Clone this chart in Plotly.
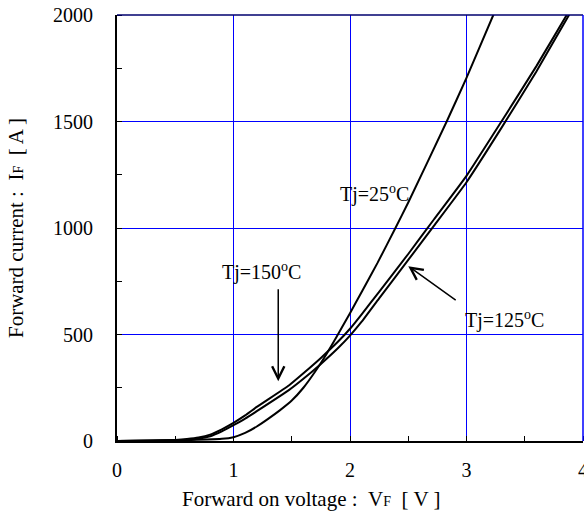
import plotly.graph_objects as go

# Forward characteristics
v_25 = [0.0, 0.5, 0.9, 1.0, 1.1, 1.2, 1.3, 1.4, 1.5, 1.6, 1.7, 1.8, 1.884, 2.0, 2.1, 2.235, 2.39, 2.5, 2.83, 3.0, 3.23, 3.3]
i_25 = [0, 3, 10, 18, 38, 68, 105, 145, 190, 250, 325, 410, 488, 600, 700, 835, 1000, 1120, 1500, 1705, 2000, 2090]

v_125 = [0.0, 0.3, 0.5, 0.6, 0.7, 0.8, 0.9, 1.0, 1.1, 1.2, 1.478, 1.6, 1.75, 1.9, 2.0, 2.1, 2.25, 2.5, 2.72, 3.0, 3.3, 3.6, 3.88, 3.95]
i_125 = [0, 1, 4, 6, 11, 22, 45, 74, 105, 140, 240, 292, 362, 438, 495, 560, 670, 850, 1010, 1215, 1470, 1735, 2000, 2060]

v_150 = [0.0, 0.3, 0.5, 0.6, 0.7, 0.8, 0.9, 1.0, 1.1, 1.2, 1.478, 1.6, 1.75, 1.9, 2.0, 2.1, 2.25, 2.5, 2.72, 3.0, 3.3, 3.6, 3.86, 3.93]
i_150 = [0, 2, 5, 9, 16, 30, 55, 85, 120, 160, 262, 318, 390, 468, 527, 595, 700, 878, 1040, 1245, 1500, 1760, 2000, 2065]

x_ticks = [0, 1, 2, 3, 4]
y_ticks = [0, 500, 1000, 1500, 2000]

FONT = "Liberation Serif"
fig = go.Figure()
for v, i in [(v_25, i_25), (v_125, i_125), (v_150, i_150)]:
    fig.add_trace(go.Scatter(x=v, y=i, mode="lines",
                             line=dict(color="black", width=2, shape="spline", smoothing=0.4),
                             showlegend=False, hoverinfo="skip"))

sp = "\u00a0"
fig.update_layout(
    width=584, height=518,
    margin=dict(l=117, r=1, t=15, b=77),
    paper_bgcolor="white", plot_bgcolor="white",
    font=dict(family=FONT, size=20, color="black"),
    xaxis=dict(range=[0, 4], tickvals=x_ticks, ticks="", showgrid=True,
               gridcolor="#0000ff", gridwidth=1, zeroline=False,
               showline=True, linecolor="black", linewidth=2, automargin=False,
               minor=dict(dtick=0.5, ticks="inside", ticklen=5, tickcolor="black", showgrid=False),
               ticklabelstandoff=10, ticklabeloverflow="allow"),
    yaxis=dict(range=[0, 2000], tickvals=y_ticks, ticks="", showgrid=True,
               gridcolor="#0000ff", gridwidth=1, zeroline=False,
               showline=True, linecolor="black", linewidth=2, automargin=False,
               minor=dict(dtick=250, ticks="inside", ticklen=5, tickcolor="black", showgrid=False),
               ticklabelstandoff=18, ticklabeloverflow="allow",
               title=dict(text="Forward current" + sp + ":" + sp + sp + "I<span style='font-size:14px'>F</span>" + sp + sp + "[ A ]",
                          standoff=24, font=dict(size=21))),
)

# x-axis title (offset left of plot centre as in the reference)
fig.add_annotation(xref="paper", yref="paper", x=0.416, y=-0.137, xanchor="center", yanchor="middle",
                   text="Forward on voltage" + sp + ":" + sp + sp + "V<span style='font-size:14px'>F</span>" + sp + sp + "[ V ]",
                   showarrow=False, font=dict(family=FONT, size=21, color="black"))

# top and right frame lines
fig.add_shape(type="line", xref="paper", yref="paper", x0=0, x1=1, y0=1, y1=1,
              line=dict(color="#00006e", width=1.5))
fig.add_shape(type="line", xref="paper", yref="paper", x0=1, x1=1, y0=0, y1=1,
              line=dict(color="#0000ff", width=1.5))

ann_font = dict(family=FONT, size=20, color="black")
fig.add_annotation(x=2.207, y=1160, text="Tj=25<sup>o</sup>C", showarrow=False, font=ann_font)
fig.add_annotation(x=1.238, y=797, text="Tj=150<sup>o</sup>C", showarrow=False, font=ann_font)
fig.add_annotation(x=3.325, y=570, text="Tj=125<sup>o</sup>C", showarrow=False, font=ann_font)
fig.add_annotation(x=1.384, y=281, ax=1.384, ay=719, xref="x", yref="y", axref="x", ayref="y",
                   text="", showarrow=True, arrowhead=5, arrowsize=1.6, arrowwidth=1.5, arrowcolor="black")
fig.add_annotation(x=2.50, y=821, ax=2.92, ay=656, xref="x", yref="y", axref="x", ayref="y",
                   text="", showarrow=True, arrowhead=5, arrowsize=1.6, arrowwidth=1.5, arrowcolor="black")

fig.write_html("out.html")
